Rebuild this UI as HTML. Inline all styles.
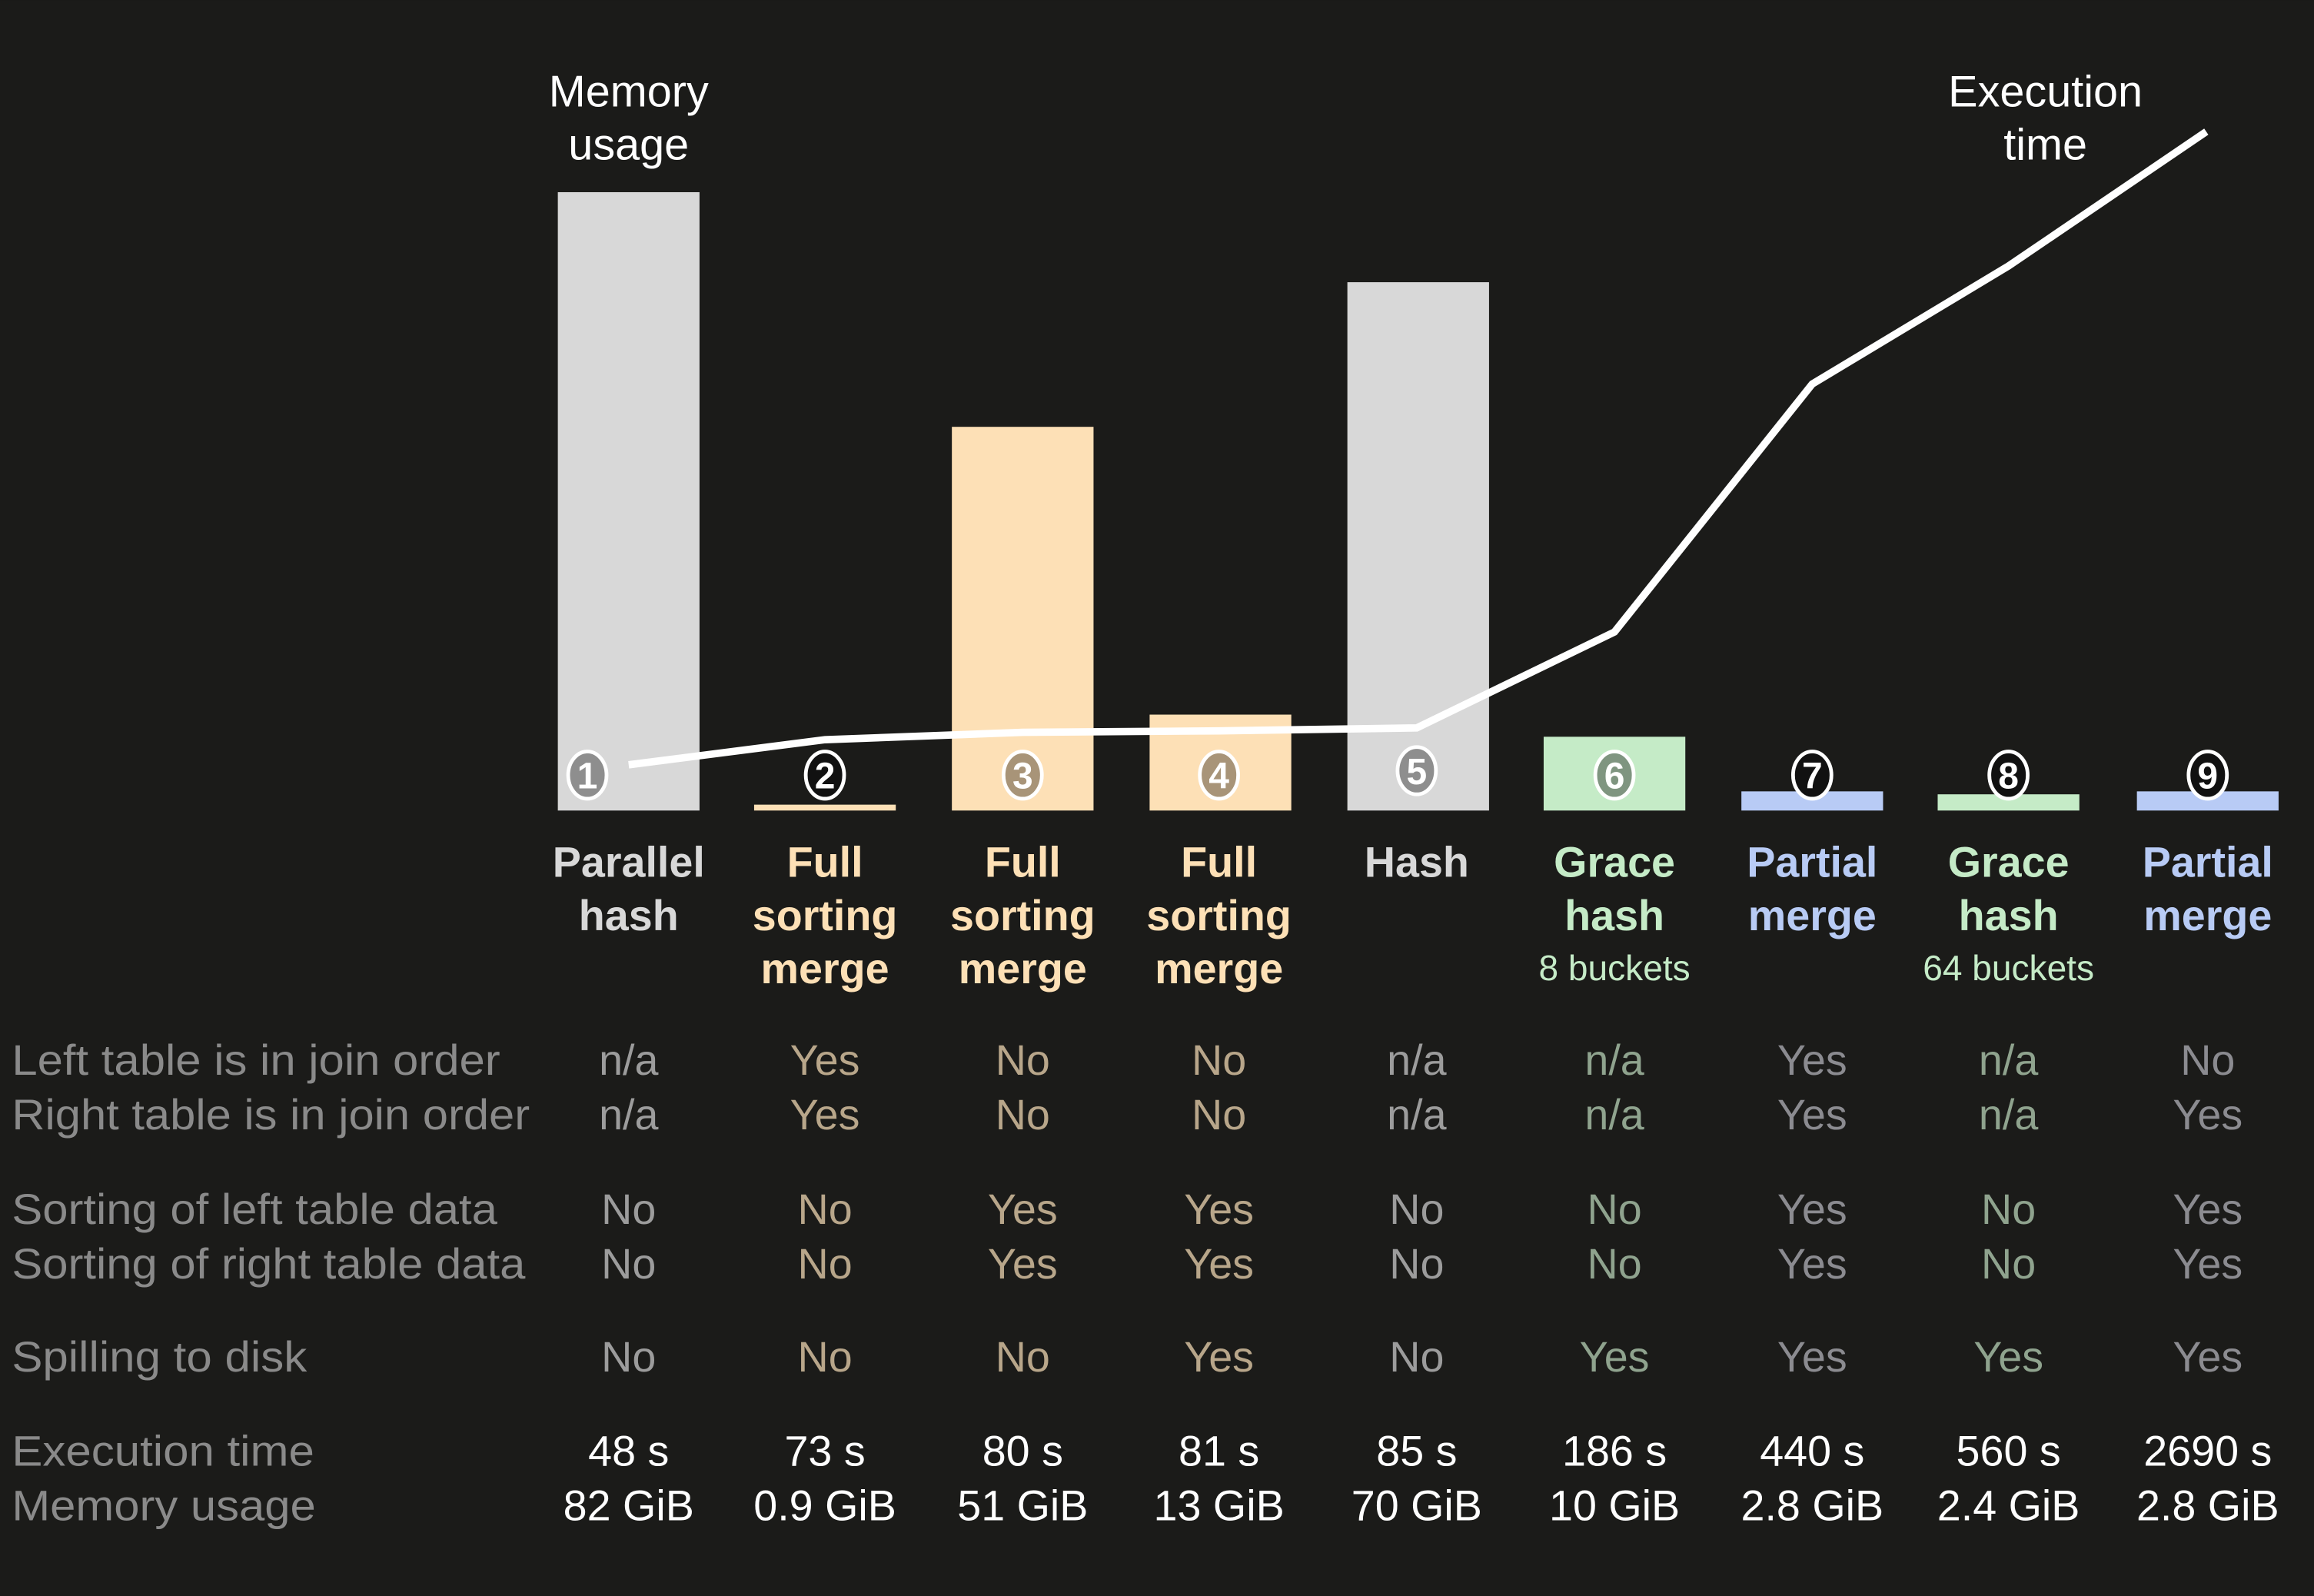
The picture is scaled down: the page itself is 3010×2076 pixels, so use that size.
<!DOCTYPE html>
<html><head><meta charset="utf-8"><style>
html,body{margin:0;padding:0;background:#1b1b19;}
svg{display:block;}
text{font-family:"Liberation Sans",sans-serif;}
</style></head><body>
<svg width="3010" height="2076" viewBox="0 0 1568 1081" xmlns="http://www.w3.org/2000/svg">
<rect width="1568" height="1081" fill="#1b1b19"/>
<!-- bars -->
<rect x="378" y="130" width="96" height="419" fill="#d8d8d8"/>
<rect x="511" y="545" width="96" height="4" fill="#fde0b6"/>
<rect x="645" y="289" width="96" height="260" fill="#fde0b6"/>
<rect x="779" y="484" width="96" height="65" fill="#fde0b6"/>
<rect x="913" y="191" width="96" height="358" fill="#d8d8d8"/>
<rect x="1046" y="499" width="96" height="50" fill="#c5ebc7"/>
<rect x="1180" y="536" width="96" height="13" fill="#b8cbf5"/>
<rect x="1313" y="538" width="96" height="11" fill="#c5ebc7"/>
<rect x="1448" y="536" width="96" height="13" fill="#b8cbf5"/>
<!-- line -->
<polyline points="426,518 559,501 693,496 826,495 960,493 1094,428 1228,260 1361,180 1495,89" fill="none" stroke="#ffffff" stroke-width="5"/>
<!-- circled numbers -->
<g stroke="#ffffff" stroke-width="2.5">
<ellipse cx="398" cy="525" rx="13" ry="16" fill="#8e8e8e"/>
<ellipse cx="559" cy="525" rx="13" ry="16" fill="#111"/>
<ellipse cx="693" cy="525" rx="13" ry="16" fill="#a89478"/>
<ellipse cx="826" cy="525" rx="13" ry="16" fill="#a89478"/>
<ellipse cx="960" cy="522" rx="13" ry="16" fill="#8e8e8e"/>
<ellipse cx="1094" cy="525" rx="13" ry="16" fill="#7f9580"/>
<ellipse cx="1228" cy="525" rx="13" ry="16" fill="#111"/>
<ellipse cx="1361" cy="525" rx="13" ry="16" fill="#111"/>
<ellipse cx="1496" cy="525" rx="13" ry="16" fill="#111"/>
</g>
<g font-size="25" font-weight="bold" fill="#ffffff" text-anchor="middle">
<text x="398" y="534">1</text><text x="559" y="534">2</text><text x="693" y="534">3</text>
<text x="826" y="534">4</text><text x="960" y="531">5</text><text x="1094" y="534">6</text>
<text x="1228" y="534">7</text><text x="1361" y="534">8</text><text x="1496" y="534">9</text>
</g>
<!-- headings -->
<g font-size="30" fill="#ffffff" text-anchor="middle">
<text x="426" y="72">Memory</text><text x="426" y="108">usage</text>
<text x="1386" y="72">Execution</text><text x="1386" y="108">time</text>
</g>
<!-- labels -->
<g font-size="29" font-weight="bold" text-anchor="middle">
<text x="426" y="594" fill="#d8d8d8">Parallel</text><text x="426" y="630" fill="#d8d8d8">hash</text>
<g fill="#fde0b6">
<text x="559" y="594">Full</text><text x="559" y="630">sorting</text><text x="559" y="666">merge</text>
<text x="693" y="594">Full</text><text x="693" y="630">sorting</text><text x="693" y="666">merge</text>
<text x="826" y="594">Full</text><text x="826" y="630">sorting</text><text x="826" y="666">merge</text>
</g>
<text x="960" y="594" fill="#d8d8d8">Hash</text>
<text x="1094" y="594" fill="#c5ebc7">Grace</text><text x="1094" y="630" fill="#c5ebc7">hash</text>
<text x="1228" y="594" fill="#b8cbf5">Partial</text><text x="1228" y="630" fill="#b8cbf5">merge</text>
<text x="1361" y="594" fill="#c5ebc7">Grace</text><text x="1361" y="630" fill="#c5ebc7">hash</text>
<text x="1496" y="594" fill="#b8cbf5">Partial</text><text x="1496" y="630" fill="#b8cbf5">merge</text>
</g>
<g font-size="24" fill="#c5ebc7" text-anchor="middle">
<text x="1094" y="664">8 buckets</text><text x="1361" y="664">64 buckets</text>
</g>
<!-- row labels -->
<g font-size="29" fill="#8a8a8a">
<text x="8" y="728" textLength="331" lengthAdjust="spacingAndGlyphs">Left table is in join order</text>
<text x="8" y="765" textLength="351" lengthAdjust="spacingAndGlyphs">Right table is in join order</text>
<text x="8" y="829" textLength="329" lengthAdjust="spacingAndGlyphs">Sorting of left table data</text>
<text x="8" y="866" textLength="348" lengthAdjust="spacingAndGlyphs">Sorting of right table data</text>
<text x="8" y="929" textLength="200" lengthAdjust="spacingAndGlyphs">Spilling to disk</text>
<text x="8" y="993" textLength="205" lengthAdjust="spacingAndGlyphs">Execution time</text>
<text x="8" y="1030" textLength="206" lengthAdjust="spacingAndGlyphs">Memory usage</text>
</g>
<!-- values -->
<g font-size="29" text-anchor="middle">
<g fill="#9c9c9c"><text x="426" y="728">n/a</text><text x="426" y="765">n/a</text><text x="426" y="829">No</text><text x="426" y="866">No</text><text x="426" y="929">No</text></g>
<g fill="#b8a68a"><text x="559" y="728">Yes</text><text x="559" y="765">Yes</text><text x="559" y="829">No</text><text x="559" y="866">No</text><text x="559" y="929">No</text></g>
<g fill="#b8a68a"><text x="693" y="728">No</text><text x="693" y="765">No</text><text x="693" y="829">Yes</text><text x="693" y="866">Yes</text><text x="693" y="929">No</text></g>
<g fill="#b8a68a"><text x="826" y="728">No</text><text x="826" y="765">No</text><text x="826" y="829">Yes</text><text x="826" y="866">Yes</text><text x="826" y="929">Yes</text></g>
<g fill="#9c9c9c"><text x="960" y="728">n/a</text><text x="960" y="765">n/a</text><text x="960" y="829">No</text><text x="960" y="866">No</text><text x="960" y="929">No</text></g>
<g fill="#8fa38e"><text x="1094" y="728">n/a</text><text x="1094" y="765">n/a</text><text x="1094" y="829">No</text><text x="1094" y="866">No</text><text x="1094" y="929">Yes</text></g>
<g fill="#8b8b90"><text x="1228" y="728">Yes</text><text x="1228" y="765">Yes</text><text x="1228" y="829">Yes</text><text x="1228" y="866">Yes</text><text x="1228" y="929">Yes</text></g>
<g fill="#8fa38e"><text x="1361" y="728">n/a</text><text x="1361" y="765">n/a</text><text x="1361" y="829">No</text><text x="1361" y="866">No</text><text x="1361" y="929">Yes</text></g>
<g fill="#8b8b90"><text x="1496" y="728">No</text><text x="1496" y="765">Yes</text><text x="1496" y="829">Yes</text><text x="1496" y="866">Yes</text><text x="1496" y="929">Yes</text></g>
</g>
<g font-size="29" fill="#ffffff" text-anchor="middle">
<text x="426" y="993">48 s</text><text x="426" y="1030">82 GiB</text>
<text x="559" y="993">73 s</text><text x="559" y="1030">0.9 GiB</text>
<text x="693" y="993">80 s</text><text x="693" y="1030">51 GiB</text>
<text x="826" y="993">81 s</text><text x="826" y="1030">13 GiB</text>
<text x="960" y="993">85 s</text><text x="960" y="1030">70 GiB</text>
<text x="1094" y="993">186 s</text><text x="1094" y="1030">10 GiB</text>
<text x="1228" y="993">440 s</text><text x="1228" y="1030">2.8 GiB</text>
<text x="1361" y="993">560 s</text><text x="1361" y="1030">2.4 GiB</text>
<text x="1496" y="993">2690 s</text><text x="1496" y="1030">2.8 GiB</text>
</g>
</svg>
</body></html>
